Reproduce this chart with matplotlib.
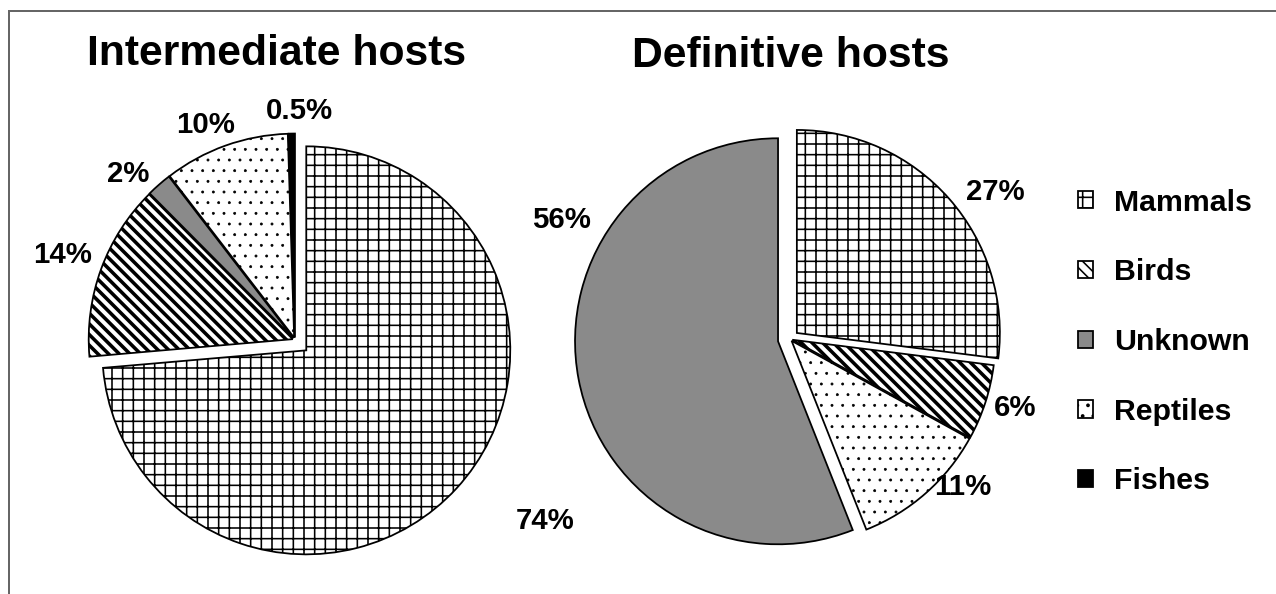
import matplotlib
matplotlib.use('Agg')

import numpy as np
from matplotlib import pyplot as plt
from matplotlib.patches import Patch
from matplotlib.lines import Line2D

plt.rcParams['font.family'] = ['Liberation Sans', 'DejaVu Sans']
plt.rcParams['hatch.linewidth'] = 0.9
plt.rcParams['hatch.color'] = 'black'

# data
inter_names = ['Mammals', 'Birds', 'Unknown', 'Reptiles', 'Fishes']
inter_pct = [74, 14, 2, 10, 0.5]
inter_labels = ['74%', '14%', '2%', '10%', '0.5%']

defin_names = ['Mammals', 'Birds', 'Reptiles', 'Unknown']
defin_pct = [27, 6, 11, 56]
defin_labels = ['27%', '6%', '11%', '56%']

legend_names = ['Mammals', 'Birds', 'Unknown', 'Reptiles', 'Fishes']

# fill styles per host group
styles = {
    'Mammals': dict(facecolor='white', hatch='++'),
    'Birds': dict(facecolor='white', hatch='\\\\\\\\'),
    'Unknown': dict(facecolor='#8a8a8a', hatch=None),
    'Reptiles': dict(facecolor='white', hatch='..'),
    'Fishes': dict(facecolor='black', hatch=None),
}
hatch_lw = {'Birds': 2.0, 'Reptiles': 0.4}

W, H = 1276, 594
DPI = 128
fig = plt.figure(figsize=(W / DPI, H / DPI), dpi=DPI)


def pie_axes(cx, cy, r):
    # cx, cy = pie centre in pixels (from top-left), r = radius in pixels
    half = 1.25 * r
    return fig.add_axes([(cx - half) / W, (H - cy - half) / H, 2 * half / W, 2 * half / H])


def style_patch(p, n):
    p.set_facecolor(styles[n]['facecolor'])
    if styles[n]['hatch']:
        p.set_hatch(styles[n]['hatch'])
        if n in hatch_lw and hasattr(p, 'set_hatch_linewidth'):
            p.set_hatch_linewidth(hatch_lw[n])


def draw(ax, names, values, labels, explode, lab_r, lab_shift):
    wedges, _ = ax.pie(values, explode=explode, startangle=90, counterclock=False,
                       wedgeprops=dict(edgecolor='black', linewidth=1.0))
    for w, n in zip(wedges, names):
        style_patch(w, n)
    for w, lab, d, s in zip(wedges, labels, lab_r, lab_shift):
        a = np.deg2rad((w.theta1 + w.theta2) / 2 + s)
        ax.text(w.center[0] + d * np.cos(a), w.center[1] + d * np.sin(a), lab,
                ha='center', va='center', fontsize=16.5, fontweight='bold')
    ax.set_xlim(-1.25, 1.25)
    ax.set_ylim(-1.25, 1.25)
    ax.set_aspect('equal')
    ax.axis('off')


ax1 = pie_axes(295, 340, 204)
draw(ax1, inter_names, inter_pct, inter_labels,
     explode=[0.075, 0.012, 0.012, 0.012, 0.012],
     lab_r=[1.44, 1.2, 1.14, 1.13, 1.11], lab_shift=[7, 0, 4, 3, -2])

ax2 = pie_axes(790, 339, 203)
draw(ax2, defin_names, defin_pct, defin_labels,
     explode=[0.045, 0.012, 0.012, 0.06],
     lab_r=[1.2, 1.15, 1.11, 1.22], lab_shift=[-6, 1, 8, -40])

fig.text(277 / W, 1 - 65 / H, 'Intermediate hosts', ha='center', va='baseline',
         fontsize=24, fontweight='bold')
fig.text(791 / W, 1 - 67 / H, 'Definitive hosts', ha='center', va='baseline',
         fontsize=24, fontweight='bold')

handles = []
for n in legend_names:
    p = Patch(edgecolor='black', linewidth=1.0)
    style_patch(p, n)
    handles.append(p)
leg = fig.legend(handles, legend_names, loc='center left', bbox_to_anchor=(1078 / W, 1 - 342 / H),
                 frameon=False, handlelength=0.5, handleheight=0.5, handletextpad=0.7,
                 labelspacing=1.38, borderpad=0, borderaxespad=0,
                 prop=dict(size=17, weight='bold'))

# grey frame (top and left edges only are visible)
lw = 2 * 72 / DPI
fig.add_artist(Line2D([8.5 / W, 1], [1 - 10.5 / H] * 2, color='#666666', lw=lw))
fig.add_artist(Line2D([8.5 / W] * 2, [0, 1 - 10.5 / H], color='#666666', lw=lw))

fig.savefig('out.png', dpi=DPI)
